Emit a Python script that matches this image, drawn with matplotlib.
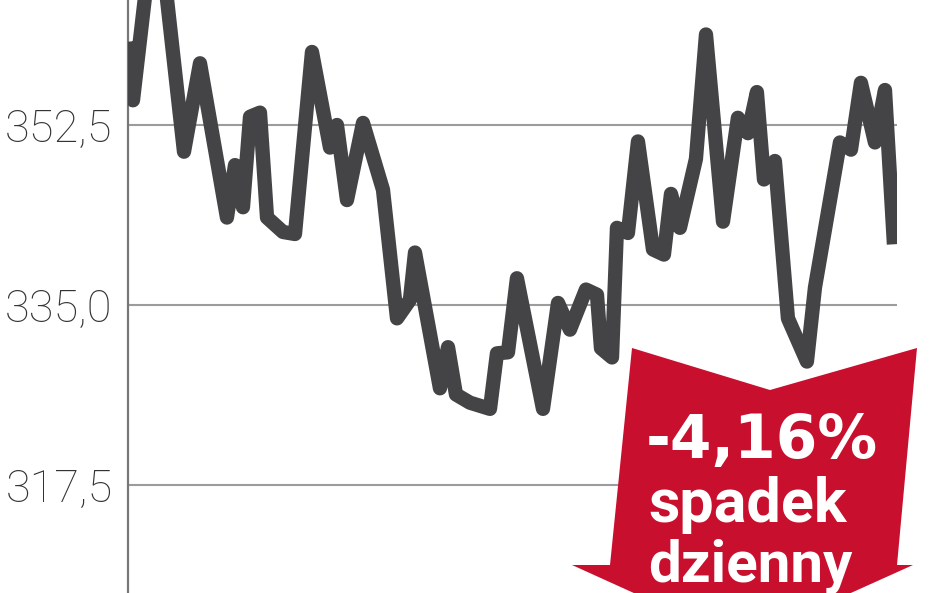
import matplotlib
matplotlib.use("Agg")
import matplotlib.pyplot as plt
from matplotlib.patches import Polygon

# notowania (sesje 0..100, wartość indeksu)
sessions = [0.0, 0.65, 2.35, 4.96, 7.31, 9.40, 12.92, 13.97, 15.01, 15.93,
            17.23, 18.15, 20.23, 21.80, 24.02, 26.37, 27.28, 28.59, 30.68, 33.29,
            35.12, 36.81, 37.47, 40.73, 41.78, 42.82, 44.65, 47.26, 48.17, 49.61,
            50.78, 54.18, 56.14, 57.70, 59.79, 61.23, 61.75, 63.19, 63.84, 65.27,
            66.58, 68.54, 69.97, 70.89, 72.06, 74.15, 75.46, 77.68, 79.63, 80.94,
            82.11, 83.03, 84.46, 86.16, 88.64, 89.69, 92.95, 94.39, 95.69, 97.52,
            98.83, 100.0]
values = [360.6, 354.9, 365.8, 365.6, 349.9, 358.5, 343.5, 348.6, 344.5, 353.3,
          353.7, 343.5, 342.1, 341.9, 359.6, 350.3, 352.5, 345.2, 352.7, 346.2,
          333.7, 335.5, 340.1, 326.9, 330.9, 326.3, 325.5, 324.9, 330.3, 330.4,
          337.6, 324.9, 335.2, 332.6, 336.5, 336.0, 330.8, 329.9, 342.5, 342.0,
          350.9, 340.4, 339.9, 345.8, 342.5, 349.2, 361.3, 343.1, 353.2, 351.7,
          355.7, 347.2, 349.0, 333.7, 329.5, 336.7, 350.8, 350.1, 356.6, 350.8,
          355.9, 340.9]
ticks = [317.5, 335.0, 352.5]
tick_labels = ["317,5", "335,0", "352,5"]
change_text = "-4,16%"
caption = ["spadek", "dzienny"]

W, H = 948, 593
fig = plt.figure(figsize=(W / 100, H / 100), dpi=100)
ax = fig.add_axes([128 / W, 0, (897 - 128) / W, 1])

ax.plot(sessions, values, color="#444446", lw=10.3,
        solid_joinstyle="round", solid_capstyle="butt", zorder=3)

ax.set_xlim(0, 100.4)
ax.set_ylim(307.0, 364.65)
ax.set_xticks([])
ax.set_yticks(ticks)
ax.set_yticklabels(tick_labels, fontfamily="Roboto", fontweight="light",
                   fontsize=32.5, color="#333333")
ax.tick_params(axis="y", length=0, pad=11)
ax.grid(axis="y", color="#9c9c9c", lw=1.5)
ax.set_axisbelow(True)
for s in ["top", "right", "bottom"]:
    ax.spines[s].set_visible(False)
ax.spines["left"].set_color("#777777")
ax.spines["left"].set_linewidth(1.6)


def fx(px):
    return px / W


def fy(py):
    return 1 - py / H


# czerwona strzałka
arrow_px = [(632, 348), (770, 390), (917, 348), (897, 565), (913, 565),
            (742, 642), (572, 565), (610, 565)]
arrow = Polygon([(fx(x), fy(y)) for x, y in arrow_px], closed=True,
                transform=fig.transFigure, facecolor="#c8102e",
                edgecolor="none", zorder=5)
fig.add_artist(arrow)

fig.text(fx(762), fy(458), change_text, ha="center", va="baseline",
         color="white", fontsize=43, fontweight="bold",
         fontfamily="DejaVu Sans", zorder=6)
fig.text(fx(748), fy(522), caption[0], ha="center", va="baseline",
         color="white", fontsize=44, fontweight="bold",
         fontfamily="Roboto", zorder=6)
fig.text(fx(750), fy(581), caption[1], ha="center", va="baseline",
         color="white", fontsize=42, fontweight="bold",
         fontfamily="Roboto", zorder=6)

fig.savefig("out.png", dpi=100)
